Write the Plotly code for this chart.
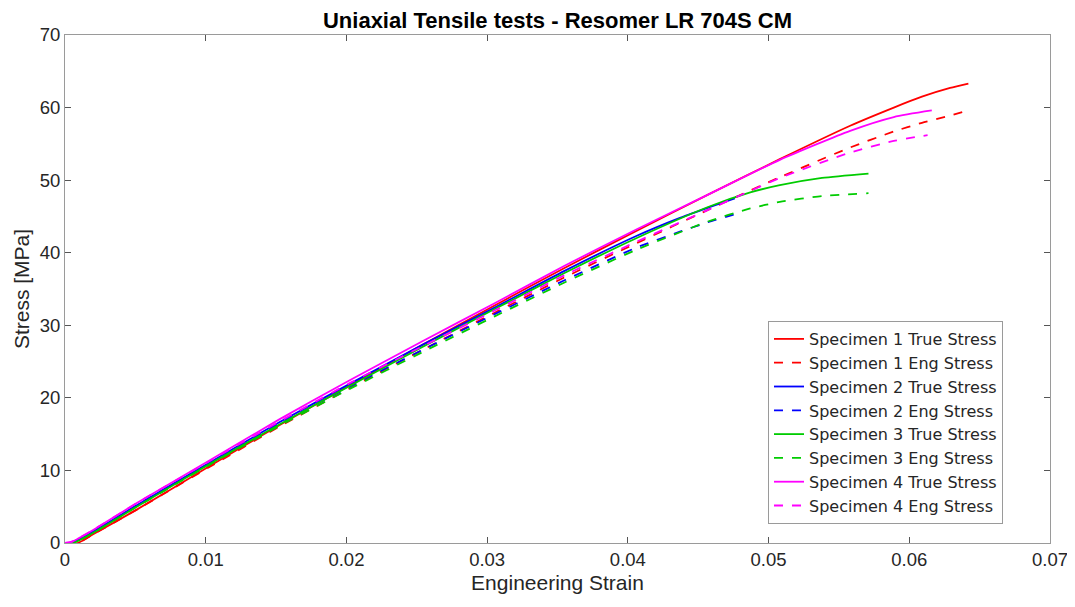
import plotly.graph_objects as go

# Strain / stress samples
s1_true_x = [0.0, 0.0009, 0.002, 0.0051, 0.0102, 0.0152, 0.0203, 0.0254, 0.0305, 0.0355, 0.0406, 0.0457, 0.0508, 0.0558, 0.0589, 0.0609, 0.0629, 0.0642]
s1_true_y = [0.0, 0.0, 1.2, 4.6, 10.5, 16.2, 21.8, 27.3, 32.7, 37.9, 43.0, 48.0, 52.9, 57.5, 60.0, 61.5, 62.7, 63.3]
s1_eng_x = [0.0, 0.0009, 0.002, 0.0051, 0.0102, 0.0152, 0.0203, 0.0254, 0.0305, 0.0355, 0.0406, 0.0457, 0.0508, 0.0558, 0.0589, 0.0609, 0.0629, 0.0640]
s1_eng_y = [0.0, 0.0, 1.2, 4.6, 10.4, 16.0, 21.4, 26.6, 31.7, 36.6, 41.3, 45.9, 50.4, 54.5, 56.7, 57.9, 58.9, 59.5]

s2_true_x = [0.0, 0.0005, 0.002, 0.0051, 0.0102, 0.0152, 0.0203, 0.0254, 0.0305, 0.0355, 0.0406, 0.0437, 0.0457, 0.0476]
s2_true_y = [0.0, 0.1, 1.6, 5.2, 11.0, 16.6, 22.0, 27.3, 32.4, 37.5, 42.3, 44.8, 46.2, 47.5]
s2_eng_x = [0.0, 0.0005, 0.002, 0.0051, 0.0102, 0.0152, 0.0203, 0.0254, 0.0305, 0.0355, 0.0406, 0.0437, 0.0457, 0.0476]
s2_eng_y = [0.0, 0.1, 1.6, 5.2, 10.9, 16.4, 21.6, 26.6, 31.5, 36.2, 40.7, 42.9, 44.2, 45.3]

s3_true_x = [0.0, 0.0007, 0.002, 0.0051, 0.0102, 0.0152, 0.0203, 0.0254, 0.0305, 0.0355, 0.0406, 0.0457, 0.0487, 0.0508, 0.0538, 0.0571]
s3_true_y = [0.0, 0.1, 1.4, 5.0, 10.8, 16.3, 21.7, 27.0, 32.2, 37.2, 42.0, 46.3, 48.3, 49.3, 50.3, 50.9]
s3_eng_x = [0.0, 0.0007, 0.002, 0.0051, 0.0102, 0.0152, 0.0203, 0.0254, 0.0305, 0.0355, 0.0406, 0.0457, 0.0487, 0.0508, 0.0538, 0.0571]
s3_eng_y = [0.0, 0.1, 1.4, 5.0, 10.7, 16.1, 21.3, 26.3, 31.2, 35.9, 40.4, 44.3, 46.1, 47.0, 47.8, 48.2]

s4_true_x = [0.0, 0.0005, 0.002, 0.0051, 0.0102, 0.0152, 0.0203, 0.0254, 0.0305, 0.0355, 0.0406, 0.0457, 0.0508, 0.0558, 0.0589, 0.0616]
s4_true_y = [0.0, 0.2, 1.8, 5.5, 11.3, 17.0, 22.5, 27.8, 33.0, 38.2, 43.2, 48.0, 52.8, 56.8, 58.7, 59.6]
s4_eng_x = [0.0, 0.0005, 0.002, 0.0051, 0.0102, 0.0152, 0.0203, 0.0254, 0.0305, 0.0355, 0.0406, 0.0457, 0.0508, 0.0558, 0.0589, 0.0613]
s4_eng_y = [0.0, 0.2, 1.8, 5.5, 11.2, 16.7, 22.1, 27.1, 32.0, 36.9, 41.5, 45.9, 50.3, 53.8, 55.4, 56.2]

x_tick_vals = [0, 0.01, 0.02, 0.03, 0.04, 0.05, 0.06, 0.07]
x_tick_text = ["0", "0.01", "0.02", "0.03", "0.04", "0.05", "0.06", "0.07"]
y_tick_vals = [0, 10, 20, 30, 40, 50, 60, 70]

names = [
    "Specimen 1 True Stress", "Specimen 1 Eng Stress",
    "Specimen 2 True Stress", "Specimen 2 Eng Stress",
    "Specimen 3 True Stress", "Specimen 3 Eng Stress",
    "Specimen 4 True Stress", "Specimen 4 Eng Stress",
]
xs = [s1_true_x, s1_eng_x, s2_true_x, s2_eng_x, s3_true_x, s3_eng_x, s4_true_x, s4_eng_x]
ys = [s1_true_y, s1_eng_y, s2_true_y, s2_eng_y, s3_true_y, s3_eng_y, s4_true_y, s4_eng_y]
colors = ["#ff0000", "#ff0000", "#0000ff", "#0000ff", "#00cc00", "#00cc00", "#ff00ff", "#ff00ff"]
dashes = ["solid", "dash"] * 4

FONT = "Liberation Sans, Arial, sans-serif"

fig = go.Figure()
for n, x, y, c, d in zip(names, xs, ys, colors, dashes):
    fig.add_trace(go.Scatter(x=x, y=y, mode="lines", name=n,
                             line=dict(color=c, width=1.8, dash=d, shape="spline", smoothing=0.6)))

axis_common = dict(
    showgrid=False, zeroline=False, showline=True, mirror="ticks",
    linecolor="#9a9a9a", linewidth=1, ticks="inside", ticklen=6,
    tickcolor="#555555", tickfont=dict(family=FONT, size=18.5, color="#262626"),
)

fig.update_layout(
    width=1075, height=607,
    margin=dict(l=57, r=33, t=27, b=72),
    paper_bgcolor="white", plot_bgcolor="white",
    title=dict(text="<b>Uniaxial Tensile tests - Resomer LR 704S CM</b>",
               xref="paper", x=0.5, xanchor="center", y=0.979, yanchor="middle",
               font=dict(family=FONT, size=22, color="#000000")),
    xaxis=dict(range=[0, 0.0700001], tickvals=x_tick_vals, ticktext=x_tick_text,
               ticklabeloverflow="allow",
               title=dict(text="Engineering Strain", font=dict(family=FONT, size=21, color="#262626"), standoff=6),
               **axis_common),
    yaxis=dict(range=[0, 70], tickvals=y_tick_vals,
               title=dict(text="Stress [MPa]", font=dict(family=FONT, size=21, color="#262626"), standoff=4),
               **axis_common),
    legend=dict(x=0.7137, y=0.437, xanchor="left", yanchor="top",
                bgcolor="white", bordercolor="#9a9a9a", borderwidth=1,
                font=dict(family="DejaVu Sans, sans-serif", size=16, color="#262626"),
                tracegroupgap=0, itemwidth=30),
    showlegend=True,
)

fig.write_html("out.html")
